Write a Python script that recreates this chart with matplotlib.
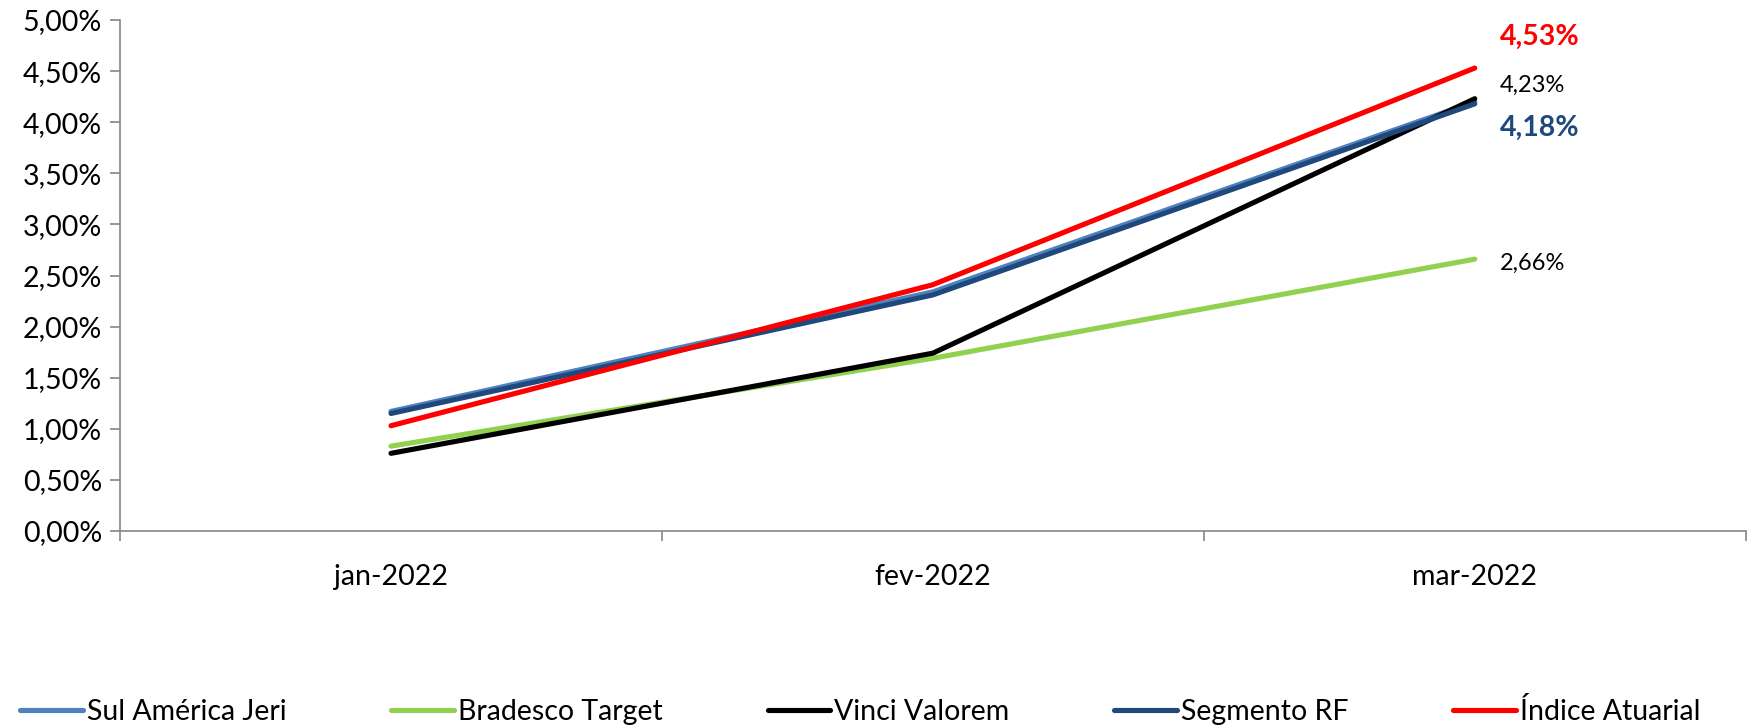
import numpy as np
import matplotlib.pyplot as plt
from matplotlib.ticker import FixedLocator, FuncFormatter

plt.rcParams['font.family'] = ['Lato', 'DejaVu Sans']

# dados (rentabilidade acumulada, %)
meses = ["jan-2022", "fev-2022", "mar-2022"]
sul_america = [1.17, 2.34, 4.20]
bradesco = [0.83, 1.69, 2.66]
vinci = [0.76, 1.74, 4.23]
segmento_rf = [1.15, 2.31, 4.18]
indice_atuarial = [1.03, 2.41, 4.53]

series = [
    ("Sul América Jeri", sul_america, "#4F81BD"),
    ("Bradesco Target", bradesco, "#92D050"),
    ("Vinci Valorem", vinci, "#000000"),
    ("Segmento RF", segmento_rf, "#1F497D"),
    ("Índice Atuarial", indice_atuarial, "#FF0000"),
]

fig = plt.figure(figsize=(17.58, 7.25), dpi=100)
ax = fig.add_axes([0.0683, 0.2676, 0.9247, 0.7048])

x = np.arange(len(meses))
for nome, vals, cor in series:
    ax.plot(x, vals, color=cor, lw=3.7, label=nome, solid_capstyle="round")

# rótulos do último ponto
rotulos = [
    (indice_atuarial, "#FF0000", "bold", 20.5, 31),
    (vinci, "#000000", "normal", 17, 13),
    (segmento_rf, "#1F497D", "bold", 20.5, -24),
    (bradesco, "#000000", "normal", 17, -4),
]
for vals, cor, peso, tam, dy in rotulos:
    ax.annotate(f"{vals[-1]:.2f}%".replace(".", ","), (x[-1], vals[-1]),
                xytext=(18, dy * 0.72), textcoords="offset points",
                ha="left", va="center", color=cor, fontweight=peso, fontsize=tam)

ax.set_xlim(-0.5, len(meses) - 0.5)
ax.set_ylim(0, 5)
ax.set_yticks(np.arange(0, 5.01, 0.5))
ax.yaxis.set_major_formatter(FuncFormatter(lambda v, p: f"{v:.2f}%".replace(".", ",")))
ax.set_xticks(x)
ax.set_xticklabels(meses)
ax.xaxis.set_minor_locator(FixedLocator(np.arange(-0.5, len(meses), 1.0)))
ax.tick_params(axis="x", which="major", length=0, pad=24, labelsize=20.5)
ax.tick_params(axis="x", which="minor", length=7, color="#868686", width=1.2)
ax.tick_params(axis="y", length=7, color="#868686", width=1.2, labelsize=20.5, pad=6)

for s in ["top", "right"]:
    ax.spines[s].set_visible(False)
for s in ["left", "bottom"]:
    ax.spines[s].set_color("#868686")
    ax.spines[s].set_linewidth(1.2)

fig.legend(loc="lower left", bbox_to_anchor=(-0.003, -0.035), ncol=5, frameon=False,
           fontsize=20.5, handlelength=2.2, handletextpad=0.15, columnspacing=3.67)

fig.savefig("out.png", dpi=100)
